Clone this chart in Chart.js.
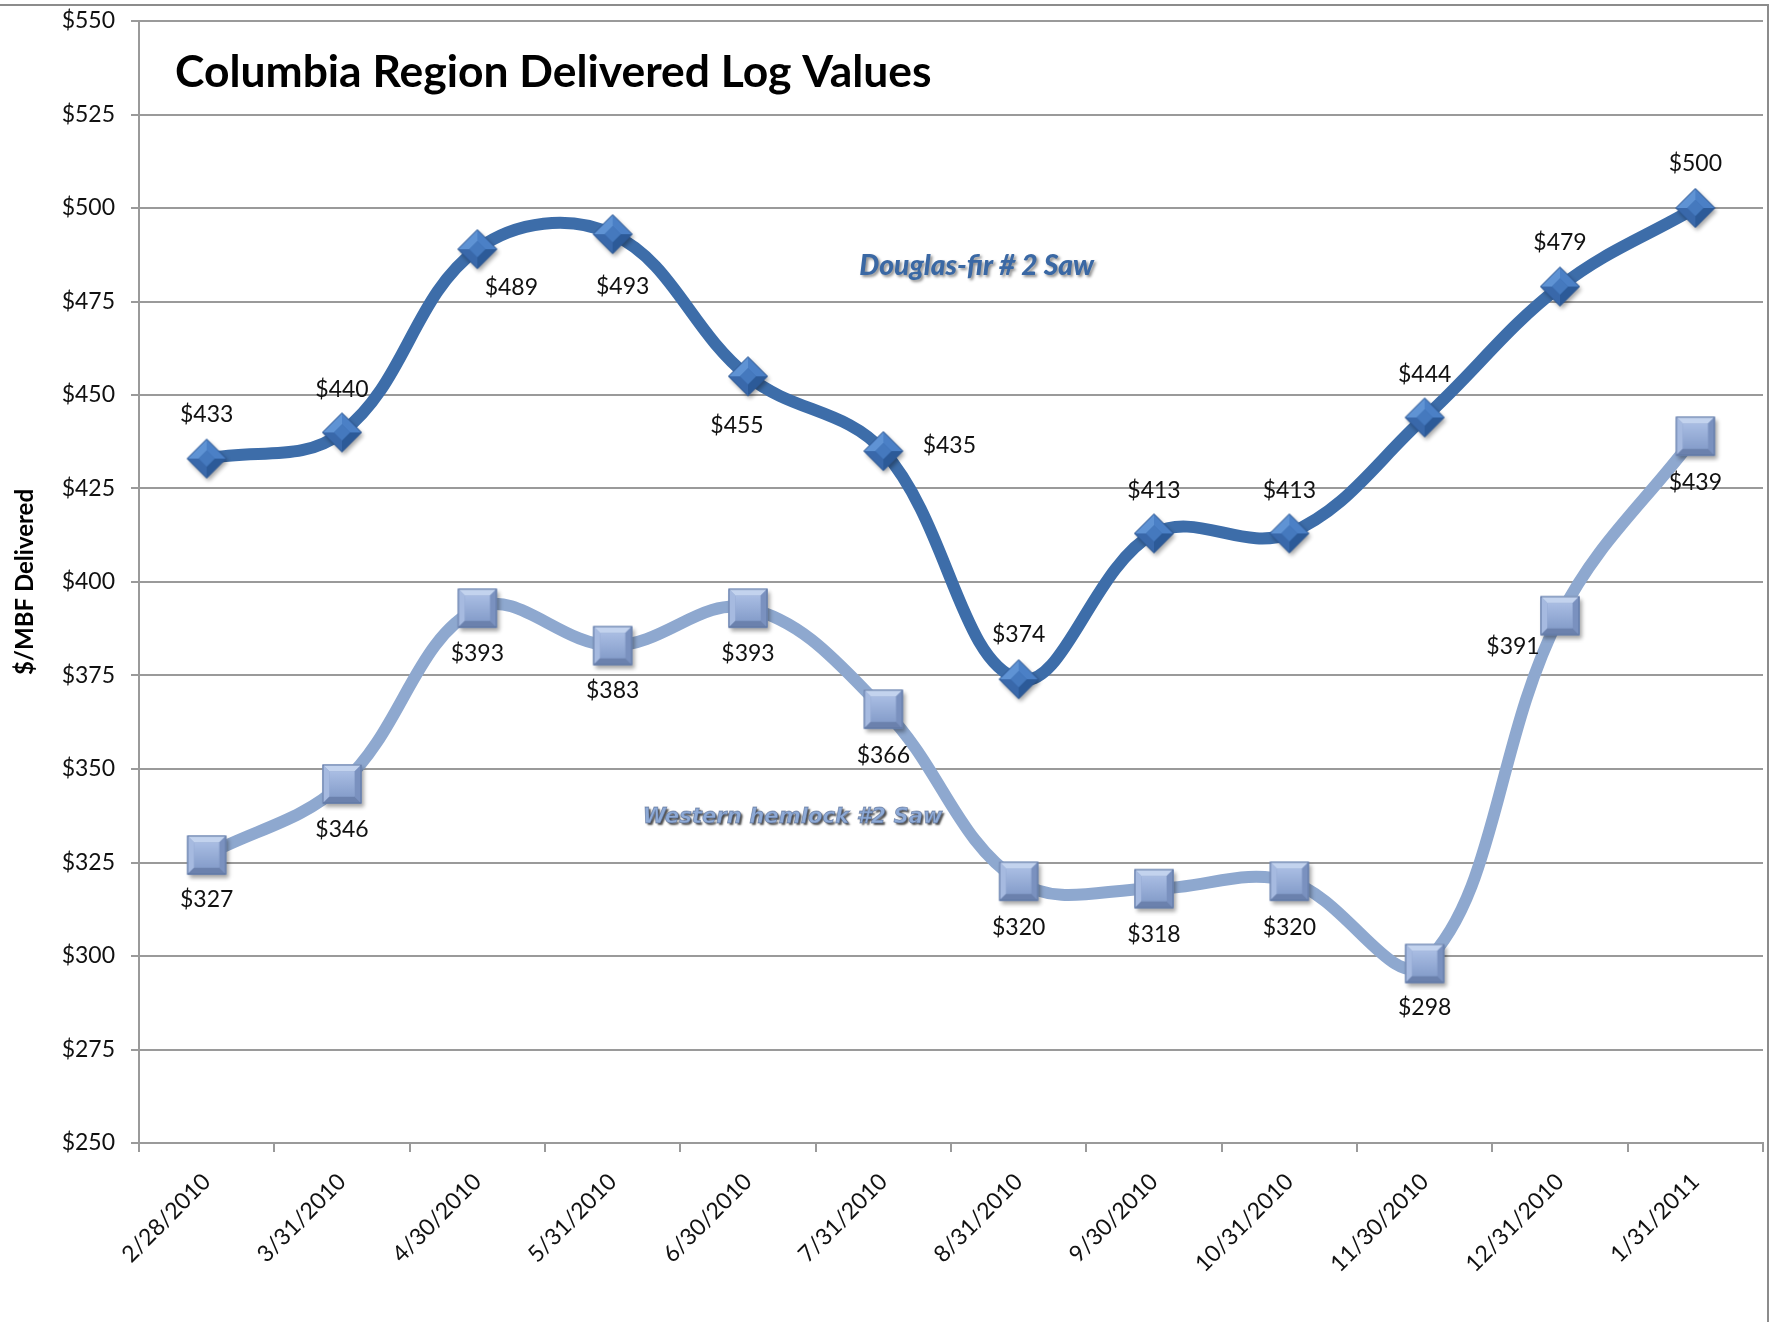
<!DOCTYPE html>
<html>
<head>
<meta charset="utf-8">
<script src="https://cdn.jsdelivr.net/npm/chart.js@4/dist/chart.umd.min.js"></script>
<style>
  html, body { margin: 0; padding: 0; background: #ffffff; }
  #wrap { width: 1771px; height: 1322px; position: relative; }
  canvas { display: block; }
</style>
</head>
<body>
<div id="wrap"><canvas id="c" width="1771" height="1322"></canvas></div>
<script>
// ---------------- DATA ----------------
const categories = ['2/28/2010','3/31/2010','4/30/2010','5/31/2010','6/30/2010','7/31/2010',
                    '8/31/2010','9/30/2010','10/31/2010','11/30/2010','12/31/2010','1/31/2011'];
const douglasFir = [433, 440, 489, 493, 455, 435, 374, 413, 413, 444, 479, 500];
const westernHemlock = [327, 346, 393, 383, 393, 366, 320, 318, 320, 298, 391, 439];
const seriesNames = ['Douglas-fir # 2 Saw', 'Western hemlock #2 Saw'];
const chartTitle = 'Columbia Region Delivered Log Values';
const yAxisTitle = '$/MBF Delivered';
const yMin = 250, yMax = 550, yStep = 25;

// ---------------- STYLE ----------------
const FONT = 'Lato';
const dfLine = '#3d6da9';
const whLine = '#8ea8cf';
const gridColor = '#9a9a9a';
// label offsets (px) relative to each point
const dfLabelOffsets = [[0,-44],[0,-43],[34,38],[10,52],[-11,49],[66,-6],[0,-45],[0,-43],[0,-43],[0,-43],[0,-44],[0,-44]];
const whLabelOffsets = [[0,45],[0,46],[0,45],[0,45],[0,45],[0,46],[0,46],[0,46],[0,46],[0,44],[-47,31],[0,46]];

function makeDiamond() {
  const S = 54, c = S / 2, r = 19.5, ir = 8;
  const cv = document.createElement('canvas');
  cv.width = S; cv.height = S;
  const g = cv.getContext('2d');
  g.save();
  g.shadowColor = 'rgba(0,0,0,0.35)'; g.shadowBlur = 4; g.shadowOffsetX = 2; g.shadowOffsetY = 3;
  g.beginPath(); g.moveTo(c, c - r); g.lineTo(c + r, c); g.lineTo(c, c + r); g.lineTo(c - r, c); g.closePath();
  g.fillStyle = '#3b6fb3'; g.fill();
  g.restore();
  const T = [c, c - r], R = [c + r, c], B = [c, c + r], L = [c - r, c];
  const t = [c, c - ir], rr = [c + ir, c], b = [c, c + ir], l = [c - ir, c];
  function face(p, col) { g.beginPath(); g.moveTo(p[0][0], p[0][1]); for (let i = 1; i < p.length; i++) g.lineTo(p[i][0], p[i][1]); g.closePath(); g.fillStyle = col; g.fill(); }
  face([L, T, t, l], '#5f93d4');
  face([T, R, rr, t], '#4b80c6');
  face([R, B, b, rr], '#2c5a98');
  face([B, L, l, b], '#3968aa');
  face([t, rr, b, l], '#4579be');
  g.beginPath(); g.moveTo(T[0], T[1]); g.lineTo(R[0], R[1]); g.lineTo(B[0], B[1]); g.lineTo(L[0], L[1]); g.closePath();
  g.strokeStyle = '#2d5690'; g.lineWidth = 1; g.stroke();
  return cv;
}

function makeSquare() {
  const S = 54, c = S / 2, h = 19.5, bv = 7;
  const cv = document.createElement('canvas');
  cv.width = S; cv.height = S;
  const g = cv.getContext('2d');
  g.save();
  g.shadowColor = 'rgba(0,0,0,0.35)'; g.shadowBlur = 4; g.shadowOffsetX = 2; g.shadowOffsetY = 3;
  g.fillStyle = '#8aa1cc'; g.fillRect(c - h, c - h, 2 * h, 2 * h);
  g.restore();
  const A = [c - h, c - h], Bp = [c + h, c - h], C = [c + h, c + h], D = [c - h, c + h];
  const a = [c - h + bv, c - h + bv], b = [c + h - bv, c - h + bv], cc = [c + h - bv, c + h - bv], d = [c - h + bv, c + h - bv];
  function face(p, col) { g.beginPath(); g.moveTo(p[0][0], p[0][1]); for (let i = 1; i < p.length; i++) g.lineTo(p[i][0], p[i][1]); g.closePath(); g.fillStyle = col; g.fill(); }
  face([A, Bp, b, a], '#c3d3ee');
  face([A, a, d, D], '#a6bae0');
  face([Bp, C, cc, b], '#7a91bf');
  face([D, d, cc, C], '#6b81ad');
  const grd = g.createLinearGradient(0, c - h + bv, 0, c + h - bv);
  grd.addColorStop(0, '#a9bde3'); grd.addColorStop(1, '#869ecb');
  g.fillStyle = grd; g.fillRect(a[0], a[1], cc[0] - a[0], cc[1] - a[1]);
  g.strokeStyle = '#5f76a2'; g.lineWidth = 1; g.strokeRect(c - h + 0.5, c - h + 0.5, 2 * h - 1, 2 * h - 1);
  return cv;
}

const diamondImg = makeDiamond();
const squareImg = makeSquare();

function fitFont(ctx, text, style, family, targetWidth) {
  ctx.font = style + ' 100px ' + family;
  const w = ctx.measureText(text).width;
  return Math.round(100 * targetWidth / w * 10) / 10;
}

const framePlugin = {
  id: 'frame',
  beforeDraw(chart) {
    const ctx = chart.ctx;
    ctx.save();
    ctx.fillStyle = '#ffffff';
    ctx.fillRect(0, 0, chart.width, chart.height);
    ctx.strokeStyle = '#8c8c8c';
    ctx.lineWidth = 2;
    ctx.beginPath();
    ctx.moveTo(0, 5); ctx.lineTo(1768, 5); ctx.lineTo(1768, chart.height);
    ctx.stroke();
    ctx.restore();
  }
};

const labelsPlugin = {
  id: 'valueLabels',
  afterDatasetsDraw(chart) {
    const ctx = chart.ctx;
    ctx.save();
    ctx.font = '23px ' + FONT;
    ctx.fillStyle = '#111111';
    ctx.textAlign = 'center';
    ctx.textBaseline = 'middle';
    const offs = [dfLabelOffsets, whLabelOffsets];
    chart.data.datasets.forEach((ds, di) => {
      const meta = chart.getDatasetMeta(di);
      meta.data.forEach((el, i) => {
        const o = offs[di][i];
        ctx.fillText('$' + ds.data[i], el.x + o[0], el.y + o[1]);
      });
    });

    // title
    const area = chart.chartArea;
    const ts = fitFont(ctx, chartTitle, 'bold', FONT, 757);
    ctx.font = 'bold ' + ts + 'px ' + FONT;
    ctx.fillStyle = '#000000';
    ctx.textAlign = 'left';
    ctx.textBaseline = 'alphabetic';
    ctx.fillText(chartTitle, area.left + 36, area.top + 66);

    // series name labels (placed through the scales)
    const xs = chart.scales.x, ys = chart.scales.y;
    let fs = fitFont(ctx, seriesNames[0], 'italic 900', FONT, 235);
    ctx.font = 'italic 900 ' + fs + 'px ' + FONT;
    ctx.textAlign = 'center';
    ctx.textBaseline = 'middle';
    ctx.shadowColor = 'rgba(0,0,0,0.45)'; ctx.shadowBlur = 3; ctx.shadowOffsetX = 2; ctx.shadowOffsetY = 2;
    ctx.fillStyle = '#3a68a4';
    ctx.fillText(seriesNames[0], xs.getPixelForValue(5.69), ys.getPixelForValue(484.5));
    fs = fitFont(ctx, seriesNames[1], 'italic bold', 'DejaVu Sans', 300);
    ctx.font = 'italic bold ' + fs + 'px DejaVu Sans';
    ctx.shadowColor = 'rgba(0,0,0,0.7)'; ctx.shadowBlur = 2; ctx.shadowOffsetX = 2; ctx.shadowOffsetY = 2;
    ctx.fillStyle = '#8eaad6';
    const hx = xs.getPixelForValue(4.33), hy = ys.getPixelForValue(337);
    ctx.fillText(seriesNames[1], hx, hy);
    ctx.shadowColor = 'transparent';
    ctx.strokeStyle = 'rgba(70,90,130,0.55)'; ctx.lineWidth = 0.8;
    ctx.strokeText(seriesNames[1], hx, hy);
    ctx.restore();
  }
};

new Chart(document.getElementById('c'), {
  type: 'line',
  data: {
    labels: categories,
    datasets: [
      {
        label: seriesNames[0],
        data: douglasFir,
        borderColor: dfLine,
        borderWidth: 12,
        tension: 0.38,
        pointStyle: diamondImg,
        pointRadius: 19,
        pointHoverRadius: 19,
        fill: false
      },
      {
        label: seriesNames[1],
        data: westernHemlock,
        borderColor: whLine,
        borderWidth: 12,
        tension: 0.38,
        pointStyle: squareImg,
        pointRadius: 20,
        pointHoverRadius: 20,
        fill: false
      }
    ]
  },
  options: {
    responsive: false,
    devicePixelRatio: 1,
    animation: false,
    events: [],
    layout: { autoPadding: false, padding: { top: 21, right: 8, left: 0, bottom: 0 } },
    plugins: {
      legend: { display: false },
      title: { display: false },
      tooltip: { enabled: false }
    },
    scales: {
      x: {
        type: 'category',
        offset: true,
        grid: { offset: true, drawOnChartArea: false, drawTicks: true, tickLength: 9, color: gridColor, lineWidth: 2 },
        border: { color: gridColor, width: 2 },
        ticks: { autoSkip: false, maxRotation: 45, minRotation: 45, padding: 16, color: '#111111', font: { family: FONT, size: 23 } },
        afterFit: (s) => { s.height = 179; s.paddingLeft = 0; s.paddingRight = 0; }
      },
      y: {
        min: yMin, max: yMax,
        grid: { color: gridColor, lineWidth: 2, tickLength: 8, drawTicks: true },
        border: { color: gridColor, width: 2 },
        ticks: { stepSize: yStep, padding: 16, color: '#111111', font: { family: FONT, size: 23 }, callback: (v) => '$' + v },
        title: { display: true, text: yAxisTitle, color: '#000000', font: { family: FONT, size: 24, weight: 'bold' }, padding: { top: 11, bottom: 0 } },
        afterFit: (s) => { s.width = 139; s.paddingTop = 0; s.paddingBottom = 0; }
      }
    }
  },
  plugins: [framePlugin, labelsPlugin]
});
</script>
</body>
</html>
